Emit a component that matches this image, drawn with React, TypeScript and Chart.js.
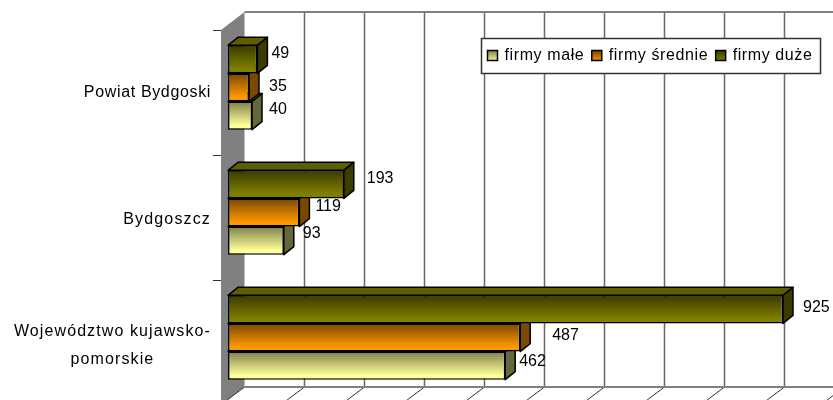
import React, { useEffect, useRef } from "react";
import { Chart, registerables } from "chart.js";

Chart.register(...registerables);

const categories = ["Powiat Bydgoski", "Bydgoszcz", "Województwo kujawsko-pomorskie"];
const firmyDuze = [49, 193, 925];
const firmySrednie = [35, 119, 487];
const firmyMale = [40, 93, 462];
const gridTicks = [0, 100, 200, 300, 400, 500, 600, 700, 800, 900, 1000];

const FONT = '16px "Liberation Sans", Arial, sans-serif';
const DEPTH_X = 10;
const DEPTH_Y = 8;
const WALL_X = 16.5;
const WALL_Y = -13;
const FRONT_X = -7;
const FRONT_Y = 5;

const wrappedLabels = [["Powiat Bydgoski"], ["Bydgoszcz"], ["Województwo kujawsko-", "pomorskie"]];
const labelSpacing = ["0.65px", "1.15px", "1.1px"];
const labelShift = [5, 7, 8];
// label placement relative to the bar end, per dataset / category
const nudges = [
  [[14, -6], [23, -6], [20, -2]],
  [[20, -1], [16, -6], [32, -2]],
  [[17, -6], [19, -7], [14, -4]],
];
const palette = [
  { top: "#3a3a00", bottom: "#808000", side: "#3c3c00", cap: "#5e5e00" },
  { top: "#7a4800", bottom: "#ff9900", side: "#7a4800", cap: "#8a5400" },
  { top: "#80804d", bottom: "#ffff99", side: "#66663d", cap: "#a0a060" },
];

function gradient(chart: any, i: number) {
  const { ctx, chartArea } = chart;
  return (c: any) => {
    const el = c.element;
    if (!el || !chartArea) return palette[i].bottom;
    const h = el.height || 28;
    const g = ctx.createLinearGradient(0, el.y - h / 2, 0, el.y + h / 2);
    g.addColorStop(0, palette[i].top);
    g.addColorStop(0.85, palette[i].bottom);
    g.addColorStop(1, palette[i].bottom);
    return g;
  };
}

const sceneryPlugin = {
  id: "scenery",
  beforeDatasetsDraw(chart: any) {
    const { ctx, chartArea: a, scales } = chart;
    const top = a.top + WALL_Y;
    const bottom = a.bottom + WALL_Y;
    const x0 = scales.x.getPixelForValue(0);
    ctx.save();
    // side wall
    ctx.fillStyle = "#808080";
    ctx.beginPath();
    ctx.moveTo(x0 + WALL_X, top);
    ctx.lineTo(x0 + FRONT_X, top + 18);
    ctx.lineTo(x0 + FRONT_X, bottom + 18);
    ctx.lineTo(x0 + WALL_X, bottom);
    ctx.closePath();
    ctx.fill();
    // grid on the back wall and on the floor
    gridTicks.forEach((t) => {
      const x = Math.round(scales.x.getPixelForValue(t) + WALL_X) - 0.5;
      if (t > 0) {
        ctx.strokeStyle = "#6a6a6a";
        ctx.lineWidth = 1.5;
        ctx.beginPath();
        ctx.moveTo(x, top);
        ctx.lineTo(x, bottom);
        ctx.stroke();
      }
      ctx.strokeStyle = "#333";
      ctx.lineWidth = 1;
      ctx.beginPath();
      ctx.moveTo(x, bottom);
      ctx.lineTo(x - 24, bottom + 18);
      ctx.stroke();
    });
    ctx.strokeStyle = "#808080";
    ctx.lineWidth = 2;
    ctx.beginPath();
    ctx.moveTo(x0 + WALL_X, top);
    ctx.lineTo(chart.width, top);
    ctx.moveTo(x0 + WALL_X, bottom);
    ctx.lineTo(chart.width, bottom);
    ctx.stroke();
    // category ticks and labels
    const band = (a.bottom - a.top) / categories.length;
    ctx.strokeStyle = "#333";
    ctx.lineWidth = 1;
    for (let i = 0; i < categories.length; i++) {
      const y = Math.round(a.top + band * i + FRONT_Y) + 0.5;
      ctx.beginPath();
      ctx.moveTo(x0 + FRONT_X - 8, y);
      ctx.lineTo(x0 + FRONT_X, y);
      ctx.stroke();
    }
    ctx.font = FONT;
    ctx.fillStyle = "#000";
    ctx.textBaseline = "middle";
    ctx.textAlign = "center";
    wrappedLabels.forEach((lines, i) => {
      (ctx as any).letterSpacing = labelSpacing[i];
      const cy = scales.y.getPixelForValue(i) + labelShift[i];
      const w = Math.max(...lines.map((l) => ctx.measureText(l).width));
      lines.forEach((line, j) => {
        ctx.fillText(line, 211 - w / 2, cy + (j - (lines.length - 1) / 2) * 28);
      });
    });
    (ctx as any).letterSpacing = "0px";
    ctx.restore();
  },
  beforeDatasetDraw(chart: any, args: any) {
    const { ctx } = chart;
    const i = args.index;
    ctx.save();
    ctx.strokeStyle = "#000";
    ctx.lineWidth = 1.5;
    ctx.lineJoin = "round";
    args.meta.data.forEach((el: any) => {
      const l = el.base;
      const r = el.x;
      const t = el.y - el.height / 2;
      const b = el.y + el.height / 2;
      ctx.fillStyle = palette[i].cap;
      ctx.beginPath();
      ctx.moveTo(l, t);
      ctx.lineTo(l + DEPTH_X, t - DEPTH_Y);
      ctx.lineTo(r + DEPTH_X, t - DEPTH_Y);
      ctx.lineTo(r, t);
      ctx.closePath();
      ctx.fill();
      ctx.stroke();
      ctx.fillStyle = palette[i].side;
      ctx.beginPath();
      ctx.moveTo(r, t);
      ctx.lineTo(r + DEPTH_X, t - DEPTH_Y);
      ctx.lineTo(r + DEPTH_X, b - DEPTH_Y);
      ctx.lineTo(r, b);
      ctx.closePath();
      ctx.fill();
      ctx.stroke();
    });
    ctx.restore();
  },
  afterDatasetsDraw(chart: any) {
    const { ctx } = chart;
    ctx.save();
    ctx.font = FONT;
    ctx.fillStyle = "#000";
    ctx.textAlign = "left";
    ctx.textBaseline = "middle";
    chart.data.datasets.forEach((ds: any, i: number) => {
      chart.getDatasetMeta(i).data.forEach((el: any, k: number) => {
        const [dx, dy] = nudges[i][k];
        ctx.fillText(String(ds.data[k]), el.x + dx, el.y + dy);
      });
    });
    // legend, last dataset first
    const bx = 481.5;
    const by = 38.5;
    ctx.fillStyle = "#fff";
    ctx.strokeStyle = "#333";
    ctx.lineWidth = 1.5;
    ctx.fillRect(bx, by, 339, 35);
    ctx.strokeRect(bx, by, 339, 35);
    (ctx as any).letterSpacing = "0.6px";
    let x = bx + 6;
    [2, 1, 0].forEach((i) => {
      const g = ctx.createLinearGradient(0, by + 12, 0, by + 23);
      g.addColorStop(0, palette[i].top);
      g.addColorStop(1, palette[i].bottom);
      ctx.fillStyle = g;
      ctx.fillRect(x, by + 12, 10, 10);
      ctx.strokeStyle = "#000";
      ctx.strokeRect(x, by + 12, 10, 10);
      ctx.fillStyle = "#000";
      const label = chart.data.datasets[i].label;
      ctx.fillText(label, x + 17, by + 17);
      x += 17 + ctx.measureText(label).width + 7.5;
    });
    ctx.restore();
  },
};

export default function App() {
  const ref = useRef<HTMLCanvasElement>(null);
  useEffect(() => {
    const canvas = ref.current;
    if (!canvas) return;
    const bar = { borderColor: "#000", borderWidth: 1.5, borderSkipped: false };
    const chart: Chart = new Chart(canvas, {
      type: "bar",
      data: {
        labels: categories,
        datasets: [
          { label: "firmy duże", data: firmyDuze, ...bar },
          { label: "firmy średnie", data: firmySrednie, ...bar },
          { label: "firmy małe", data: firmyMale, ...bar },
        ] as any,
      },
      options: {
        indexAxis: "y",
        animation: false,
        responsive: false,
        devicePixelRatio: 1,
        layout: { padding: { left: 228, right: 5, top: 25, bottom: 0 } },
        datasets: { bar: { categoryPercentage: 0.675, barPercentage: 1 } },
        scales: {
          x: { min: 0, max: 1000, display: false },
          y: { display: false },
        },
        plugins: { legend: { display: false }, tooltip: { enabled: false }, colors: { enabled: false } },
      } as any,
      plugins: [sceneryPlugin],
    });
    chart.data.datasets.forEach((ds: any, i: number) => {
      ds.backgroundColor = gradient(chart, i);
    });
    chart.update();
    return () => chart.destroy();
  }, []);
  return (
    <div style={{ position: "absolute", left: 0, top: 0, width: 833, height: 400, overflow: "hidden", background: "#fff" }}>
      <canvas ref={ref} width={833} height={400} style={{ display: "block" }} />
    </div>
  );
}
